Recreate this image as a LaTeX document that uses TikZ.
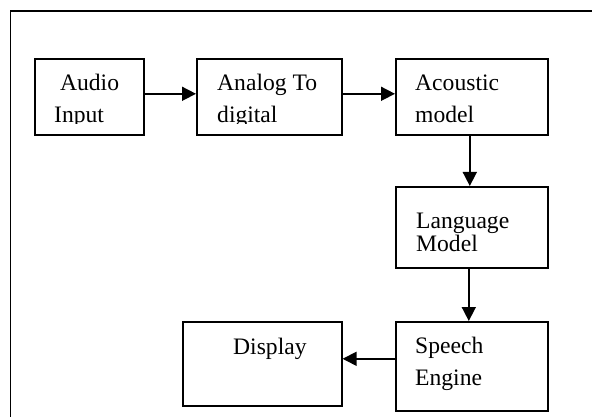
\documentclass[tikz,border=0pt]{standalone}
\usepackage{fontspec}
\setmainfont{Liberation Serif}
\usetikzlibrary{arrows.meta}

\begin{document}
\begin{tikzpicture}[x=1pt, y=-1pt,
    blk/.style={draw, line width=1.6pt, inner sep=0, anchor=north west},
    txt/.style={inner sep=0, anchor=base west, align=left, font=\fontsize{23.6}{31.5}\selectfont},
    flow/.style={line width=1.6pt, -{Triangle[length=14pt, width=14pt]}}
  ]
    \clip (0,0) rectangle (592,417);
    \draw[line width=1.2pt] (10.5,11) rectangle (600,430);
    % blocks
    \node[blk, minimum width=109, minimum height=76] (audio) at (34,58) {};
    \node[blk, minimum width=145, minimum height=76] (adc) at (196,58) {};
    \node[blk, minimum width=152, minimum height=76] (acoustic) at (395,58) {};
    \node[blk, minimum width=152, minimum height=81] (language) at (395,186) {};
    \node[blk, minimum width=152, minimum height=89] (speech) at (395,321) {};
    \node[blk, minimum width=159, minimum height=84] (display) at (182,321) {};
    % texts of the first row are cut by their boxes (base = last line)
    \begin{scope}
      \clip (0,0) rectangle (592,123.5);
      \node[txt] (audio-t) at (54,122.5) {\ Audio\\Input};
      \node[txt] (adc-t) at (217,122.5) {Analog To\\digital};
      \node[txt] (acoustic-t) at (415,122.5) {Acoustic\\model};
    \end{scope}
    \node[txt, font=\fontsize{23.6}{22}\selectfont] (language-t) at (416,251) {Language\\Model};
    \node[txt] (speech-t) at (415,385) {Speech\\Engine};
    \node[txt] (display-t) at (233,354) {Display};
    % connectors
    \coordinate (out) at ([yshift=7.5pt]speech.west);
    \draw[flow] ([yshift=3pt]audio.east) -- ([yshift=3pt]adc.west);
    \draw[flow] ([yshift=3pt]adc.east) -- ([yshift=3pt]acoustic.west);
    \draw[flow] ([xshift=-2pt]acoustic.south) -- ([xshift=-2pt]language.north);
    \draw[flow] ([xshift=-3pt]language.south) -- ([xshift=-3pt]speech.north);
    \draw[flow] (out) -- (out -| display.east);
\end{tikzpicture}
\end{document}
